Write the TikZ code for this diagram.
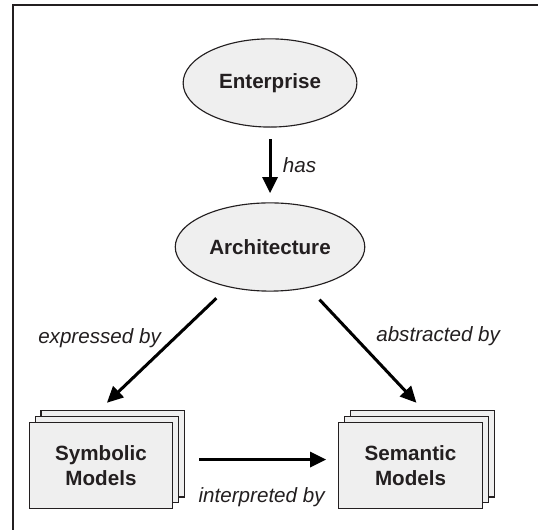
\documentclass[tikz,border=0pt]{standalone}
\usepackage{fontspec}
\setmainfont{Liberation Sans}
\usepackage{xcolor}
\usepackage{tikz}
\usetikzlibrary{shapes,arrows.meta,positioning,calc}
\definecolor{inkgray}{HTML}{231F20}
\definecolor{boxgray}{HTML}{EFEFEF}

\begin{document}
\begin{tikzpicture}[
	%	style def
    scale=1,
    concept/.style={ellipse, draw=inkgray, line width=0.6pt, fill=boxgray, minimum width=3.23cm, minimum height=1.64cm, text=inkgray, font=\bfseries\fontsize{10.9}{13}\selectfont},
    model/.style={rectangle, draw=inkgray, line width=0.6pt, fill=boxgray, minimum width=2.67cm, minimum height=1.61cm, text=inkgray, align=center, font=\bfseries\fontsize{10.9}{13}\selectfont},
    link/.style={draw=black, line width=1.6pt, -{Triangle[length=0.3cm,width=0.28cm]}},
    relation/.style={text=inkgray, inner sep=0pt, font=\itshape\fontsize{10.9}{13}\selectfont}
    ]
	\useasboundingbox (0,0) rectangle (10,9.851);

	% frame (top and left side only)
	\draw[line width=1.1pt, inkgray] (10,9.758) -- (0.242,9.758) -- (0.242,0);

	% concepts
	\node[concept] (ent) at (5.019,8.309) {Enterprise};
	\node[concept] (arch) at (5.019,5.260) {Architecture};

	% symbolic models (stack of three sheets)
	\node[model] (symB) at (2.097,1.419) {};
	\node[model] (symM) at (1.987,1.309) {};
	\node[model] (sym) at (1.877,1.199) {Symbolic\\Models};

	% semantic models (stack of three sheets)
	\node[model] (semB) at (7.850,1.419) {};
	\node[model] (semM) at (7.740,1.309) {};
	\node[model] (sem) at (7.630,1.199) {Semantic\\Models};

	% arrow ends above the stacks
	\coordinate[above=0.24cm of symM.north] (symIn);
	\coordinate[above=0.24cm of semM.north] (semIn);

	% relations
	\draw[link, shorten <=0.22cm, shorten >=0.17cm] (ent) -- (arch) node[midway, right=0.21cm, relation] {has};
	\draw[link, shorten <=0.3cm] (arch) -- (symIn) node[pos=0.44, left=0.23cm, relation] {expressed by};
	\draw[link, shorten <=0.3cm] (arch) -- (semIn) node[pos=0.42, right=0.39cm, relation] {abstracted by};
	\draw[link, shorten <=0.37cm, shorten >=0.33cm] (symM) -- (semM) node[midway, below=0.49cm, relation] {interpreted by};

\end{tikzpicture}
\end{document}
